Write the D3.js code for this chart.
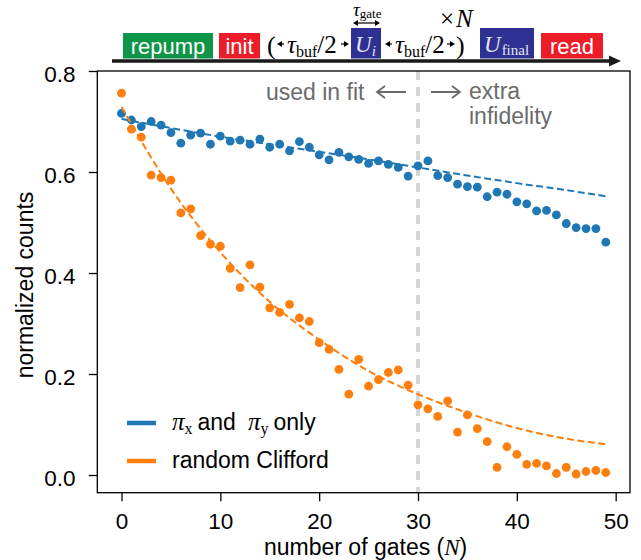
<!DOCTYPE html>
<html>
<head>
<meta charset="utf-8">
<script src="https://cdn.jsdelivr.net/npm/d3@7"></script>
<style>
  body { margin: 0; background: #fff; }
  svg { display: block; }
  text { font-family: "Liberation Sans", Arial, sans-serif; }
  .math { font-family: "Liberation Serif", "Times New Roman", serif; }
</style>
</head>
<body>
<svg id="chart" width="641" height="560"></svg>
<script>
// number of gates N
var gateN = [0, 1, 2, 3, 4, 5, 6, 7, 8, 9, 10, 11, 12, 13, 14, 15, 16, 17, 18, 19,
  20, 21, 22, 23, 24, 25, 26, 27, 28, 29, 30, 31, 32, 33, 34, 35, 36, 37, 38, 39,
  40, 41, 42, 43, 44, 45, 46, 47, 48, 49];

// pi_x and pi_y only
var piXYCounts = [0.716, 0.703, 0.690, 0.700, 0.693, 0.678, 0.657, 0.673, 0.677, 0.655,
  0.671, 0.661, 0.663, 0.655, 0.665, 0.649, 0.655, 0.642, 0.660, 0.649,
  0.634, 0.624, 0.639, 0.630, 0.625, 0.617, 0.622, 0.615, 0.609, 0.592,
  0.612, 0.622, 0.593, 0.589, 0.576, 0.571, 0.570, 0.551, 0.560, 0.556,
  0.541, 0.537, 0.523, 0.524, 0.515, 0.498, 0.490, 0.488, 0.488, 0.461];

// random Clifford
var cliffordCounts = [0.756, 0.685, 0.669, 0.594, 0.589, 0.584, 0.519, 0.527, 0.474, 0.457,
  0.453, 0.409, 0.371, 0.416, 0.372, 0.331, 0.322, 0.338, 0.311, 0.304,
  0.262, 0.249, 0.209, 0.160, 0.229, 0.176, 0.189, 0.203, 0.208, 0.178,
  0.139, 0.131, 0.116, 0.147, 0.085, 0.119, 0.092, 0.066, 0.015, 0.056,
  0.041, 0.021, 0.023, 0.018, 0.003, 0.015, 0.002, 0.007, 0.009, 0.005];

// fitted curves
var fitN = [0, 5, 10, 15, 20, 25, 30, 35, 40, 45, 49];
var piXYFit = [0.705, 0.687, 0.670, 0.655, 0.640, 0.625, 0.609, 0.593, 0.578, 0.564, 0.552];
var cliffordFit = [0.729, 0.567, 0.441, 0.343, 0.268, 0.206, 0.160, 0.123, 0.093, 0.072, 0.061];

var xTicks = [0, 10, 20, 30, 40, 50];
var yTicks = [0.0, 0.2, 0.4, 0.6, 0.8];
var fitCutoff = 30;

var blue = "#1f77b4", orange = "#ff7f0e";

var svg = d3.select("#chart");
var plotLeft = 97.3, plotRight = 630, plotTop = 71, plotBottom = 492.7;

var x = d3.scaleLinear().domain([-2.45, 51.45]).range([plotLeft, plotRight]);
var y = d3.scaleLinear().domain([-0.035, 0.8]).range([plotBottom, plotTop]);

// axes
var xAxis = svg.append("g")
  .attr("transform", "translate(0," + plotBottom + ")")
  .call(d3.axisBottom(x).tickValues(xTicks).tickFormat(d3.format("d")).tickSize(8.5).tickPadding(12.3));
var yAxis = svg.append("g")
  .attr("transform", "translate(" + plotLeft + ",0)")
  .call(d3.axisLeft(y).tickValues(yTicks).tickFormat(d3.format(".1f")).tickSize(8.5).tickPadding(13.3));

[xAxis, yAxis].forEach(function(g) {
  g.select(".domain").remove();
  g.selectAll(".tick line").attr("stroke", "#000").attr("stroke-width", 1.3);
  g.selectAll(".tick text")
    .attr("fill", "#000")
    .style("font-family", "'Liberation Sans', Arial, sans-serif")
    .style("font-size", "22.5px");
});
yAxis.selectAll(".tick text").attr("dy", "0.46em");

// gray divider at N = 30
svg.append("line")
  .attr("x1", x(fitCutoff)).attr("x2", x(fitCutoff))
  .attr("y1", plotTop).attr("y2", plotBottom)
  .attr("stroke", "#d6d6d6")
  .attr("stroke-width", 4)
  .attr("stroke-dasharray", "9,7");

var fitLine = d3.line()
  .x(function(d) { return x(d[0]); })
  .y(function(d) { return y(d[1]); })
  .curve(d3.curveMonotoneX);

function drawSeries(values, fit, color) {
  svg.append("g")
    .selectAll("circle")
    .data(values)
    .enter()
    .append("circle")
    .attr("cx", function(d, i) { return x(gateN[i]); })
    .attr("cy", function(d) { return y(d); })
    .attr("r", 4.4)
    .attr("fill", color);

  svg.append("path")
    .datum(fitN.map(function(n, i) { return [n, fit[i]]; }))
    .attr("d", fitLine)
    .attr("fill", "none")
    .attr("stroke", color)
    .attr("stroke-width", 2)
    .attr("stroke-dasharray", "7,3.5");
}

drawSeries(piXYCounts, piXYFit, blue);
drawSeries(cliffordCounts, cliffordFit, orange);

// frame
svg.append("rect")
  .attr("x", plotLeft).attr("y", plotTop)
  .attr("width", plotRight - plotLeft).attr("height", plotBottom - plotTop)
  .attr("fill", "none")
  .attr("stroke", "#000")
  .attr("stroke-width", 1.3);

// axis labels
svg.append("text")
  .attr("x", (plotLeft + plotRight) / 2 + 2)
  .attr("y", 555)
  .attr("text-anchor", "middle")
  .style("font-size", "23px")
  .html('number of gates (<tspan class="math" font-style="italic">N</tspan>)');

svg.append("text")
  .attr("transform", "translate(33,285) rotate(-90)")
  .attr("text-anchor", "middle")
  .style("font-size", "23px")
  .text("normalized counts");

// annotations
var gray = "#6b6b6b";
svg.append("text").attr("x", 266).attr("y", 100)
  .attr("fill", gray).style("font-size", "23px").text("used in fit");
svg.append("text").attr("x", 469).attr("y", 99)
  .attr("fill", gray).style("font-size", "23px").text("extra");
svg.append("text").attr("x", 469).attr("y", 124)
  .attr("fill", gray).style("font-size", "23px").text("infidelity");

function longArrow(x1, x2, yy, color) {
  var dir = x2 > x1 ? 1 : -1;
  svg.append("path")
    .attr("d", "M" + x1 + "," + yy + "H" + x2 +
      "M" + (x2 - dir * 8) + "," + (yy - 6) + "L" + x2 + "," + yy + "L" + (x2 - dir * 8) + "," + (yy + 6))
    .attr("fill", "none")
    .attr("stroke", color)
    .attr("stroke-width", 1.8);
}
longArrow(406, 377, 92, gray);
longArrow(431, 460, 92, gray);

// legend
var legend = [
  { color: blue, y: 423 },
  { color: orange, y: 461 }
];
legend.forEach(function(d) {
  svg.append("line")
    .attr("x1", 127).attr("x2", 156)
    .attr("y1", d.y).attr("y2", d.y)
    .attr("stroke", d.color)
    .attr("stroke-width", 4.5);
});
svg.append("text").attr("x", 172).attr("y", 430).style("font-size", "23px")
  .html('<tspan class="math" font-style="italic" font-size="25px">π</tspan>' +
    '<tspan class="math" font-size="16px" dy="4">x</tspan>' +
    '<tspan dy="-4" dx="5">and</tspan>' +
    '<tspan class="math" font-style="italic" font-size="25px" dx="12">π</tspan>' +
    '<tspan class="math" font-size="16px" dy="4">y</tspan>' +
    '<tspan dy="-4" dx="5">only</tspan>');
svg.append("text").attr("x", 172).attr("y", 468).style("font-size", "23px").text("random Clifford");

// pulse sequence diagram
var green = "#0f9548", red = "#ec1c29", navy = "#2e3192";
var lineY = 61;

svg.append("line")
  .attr("x1", 112).attr("x2", 612)
  .attr("y1", lineY).attr("y2", lineY)
  .attr("stroke", "#1a1a1a")
  .attr("stroke-width", 3.5);
svg.append("path")
  .attr("d", "M609," + (lineY - 5.5) + "L621," + lineY + "L609," + (lineY + 5.5) + "Z")
  .attr("fill", "#1a1a1a");

var boxes = [
  { x0: 123, x1: 213, y0: 33, fill: green, label: "repump" },
  { x0: 219, x1: 260, y0: 33, fill: red, label: "init" },
  { x0: 541, x1: 603, y0: 33, fill: red, label: "read" },
  { x0: 351, x1: 381, y0: 28, fill: navy, label: null },
  { x0: 480, x1: 534, y0: 28, fill: navy, label: null }
];
boxes.forEach(function(b) {
  svg.append("rect")
    .attr("x", b.x0).attr("y", b.y0)
    .attr("width", b.x1 - b.x0).attr("height", 58.5 - b.y0)
    .attr("fill", b.fill);
  if (b.label) {
    svg.append("text")
      .attr("x", (b.x0 + b.x1) / 2).attr("y", 54)
      .attr("text-anchor", "middle")
      .attr("fill", "#fff")
      .style("font-size", "22px")
      .text(b.label);
  }
});

// U_i and U_final
svg.append("text").attr("class", "math").attr("x", 355).attr("y", 52)
  .attr("fill", "#e4e4f4").style("font-size", "23px")
  .html('<tspan font-style="italic">U</tspan><tspan font-style="italic" font-size="15px" dy="4">i</tspan>');
svg.append("text").attr("class", "math").attr("x", 484).attr("y", 52)
  .attr("fill", "#e4e4f4").style("font-size", "23px")
  .html('<tspan font-style="italic">U</tspan><tspan font-size="15px" dy="3" dx="1">final</tspan>');

// tau_buf / 2 groups
function smallArrow(x1, x2, yy) {
  var dir = x2 > x1 ? 1 : -1;
  svg.append("line")
    .attr("x1", x1).attr("x2", x2 - dir * 3)
    .attr("y1", yy).attr("y2", yy)
    .attr("stroke", "#000").attr("stroke-width", 1.2);
  svg.append("path")
    .attr("d", "M" + (x2 - dir * 5) + "," + (yy - 3) + "L" + x2 + "," + yy + "L" + (x2 - dir * 5) + "," + (yy + 3) + "Z")
    .attr("fill", "#000");
}
function tauBuf(x0) {
  svg.append("text").attr("class", "math").attr("x", x0).attr("y", 53)
    .style("font-size", "25px")
    .html('<tspan font-style="italic">τ</tspan><tspan font-size="16px" dy="4">buf</tspan><tspan dy="-4">/2</tspan>');
}
svg.append("text").attr("class", "math").attr("x", 267).attr("y", 54).style("font-size", "26px").text("(");
smallArrow(284, 277, 44);
tauBuf(287);
smallArrow(341, 349, 44);
smallArrow(392, 385, 44);
tauBuf(395);
smallArrow(447, 455, 44);
svg.append("text").attr("class", "math").attr("x", 456).attr("y", 54).style("font-size", "26px").text(")");

// tau_gate
svg.append("text").attr("class", "math").attr("x", 353).attr("y", 16)
  .style("font-size", "19px")
  .html('<tspan font-style="italic">τ</tspan><tspan font-size="13px" dy="2">gate</tspan>');
svg.append("line").attr("x1", 356).attr("x2", 377).attr("y1", 23).attr("y2", 23)
  .attr("stroke", "#000").attr("stroke-width", 1.2);
svg.append("path").attr("d", "M353,23L358,20L358,26Z M380,23L375,20L375,26Z").attr("fill", "#000");

// x N
svg.append("text").attr("class", "math").attr("x", 440).attr("y", 27)
  .style("font-size", "25px")
  .html('×<tspan font-style="italic" dx="2">N</tspan>');
</script>
</body>
</html>
